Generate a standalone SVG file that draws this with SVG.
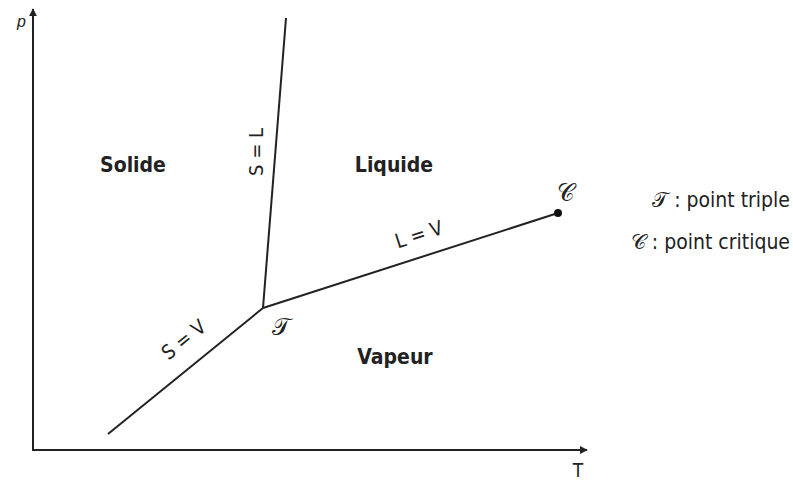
<svg xmlns="http://www.w3.org/2000/svg" width="793" height="480" viewBox="0 0 793 480">
<style>
.ax{stroke:#222;stroke-width:2;fill:none}
.ln{stroke:#222;stroke-width:2;fill:none}
.reg{font-family:"DejaVu Sans Condensed","Liberation Sans",sans-serif;font-weight:bold;font-size:21px;fill:#222;text-anchor:middle}
.lab{font-family:"DejaVu Sans Condensed","Liberation Sans",sans-serif;font-size:20px;fill:#222;text-anchor:middle}
.leg{font-family:"DejaVu Sans Condensed","Liberation Sans",sans-serif;font-size:21px;fill:#222;text-anchor:end}
.scr{font-family:"DejaVu Serif","Noto Sans",serif;font-size:24px;fill:#222}
</style>
<defs>
<marker id="ar" viewBox="0 0 10 10" refX="9" refY="5" markerWidth="8" markerHeight="8" markerUnits="userSpaceOnUse" orient="auto">
<path d="M0,0 L10,5 L0,10 Z" fill="#222"/>
</marker>
</defs>
<g id="axes">
<line class="ax" x1="33" y1="451" x2="33" y2="9" marker-end="url(#ar)"/>
<line class="ax" x1="32" y1="450" x2="587" y2="450" marker-end="url(#ar)"/>
<text x="17" y="27" font-family="Liberation Sans,sans-serif" font-style="italic" font-size="16" fill="#222">p</text>
<text x="578" y="477" font-family="DejaVu Sans Condensed,Liberation Sans,sans-serif" font-size="19" fill="#222" text-anchor="middle">T</text>
</g>
<g id="connectors">
<line class="ln" x1="263" y1="308" x2="286" y2="18"/>
<line class="ln" x1="263" y1="308" x2="558" y2="213"/>
<line class="ln" x1="108" y1="434" x2="263" y2="308"/>
<circle cx="558" cy="213" r="4" fill="#111"/>
<text class="lab" transform="translate(263,152) rotate(-90)">S = L</text>
<text class="lab" transform="translate(421,241) rotate(-17.8)">L = V</text>
<text class="lab" transform="translate(188,345) rotate(-39)">S = V</text>
</g>
<g id="solide"><text class="reg" x="133" y="172">Solide</text></g>
<g id="liquide"><text class="reg" x="394" y="172">Liquide</text></g>
<g id="vapeur"><text class="reg" x="395" y="364">Vapeur</text></g>
<g id="triple"><text class="scr" x="272" y="335">𝒯</text></g>
<g id="critique"><text class="scr" x="557" y="201">𝒞</text></g>
<g id="legend">
<text class="leg" x="790" y="207">𝒯 : point triple</text>
<text class="leg" x="790" y="249">𝒞 : point critique</text>
</g>
</svg>
